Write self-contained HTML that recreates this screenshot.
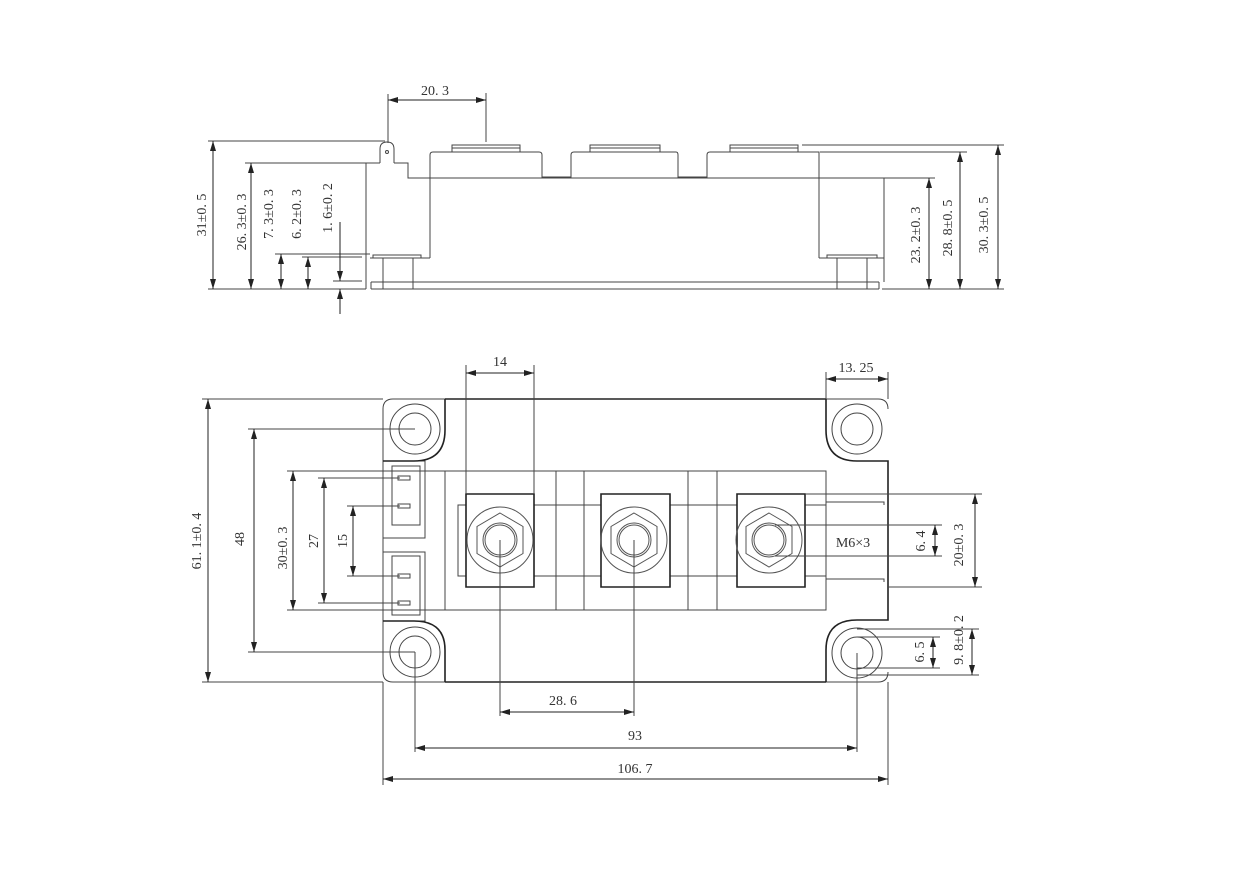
<!DOCTYPE html>
<html><head><meta charset="utf-8"><style>
html,body{margin:0;padding:0;background:#fff;}
svg{display:block;}
text{font-family:"Liberation Serif","Noto Serif CJK SC",serif;font-size:14px;fill:#333;}
</style></head><body>
<svg width="1255" height="887" viewBox="0 0 1255 887" xmlns="http://www.w3.org/2000/svg">
<defs>
<marker id="a" viewBox="0 0 10 6" refX="10" refY="3" markerWidth="10" markerHeight="6" markerUnits="userSpaceOnUse" orient="auto-start-reverse">
<path d="M0,0 L10,3 L0,6 z" fill="#222"/>
</marker>
</defs>
<g fill="none" stroke="#444" stroke-width="1">
<path d="M371,289 H879 M371,282 H879 M371,282 V289 M879,282 V289"/>
<path d="M366,289 V163 H380 M394,163 H408 V178 H884 V282"/>
<path d="M380,163 V149 Q380,142 387,142 Q394,142 394,149 V163"/>
<circle cx="387" cy="152" r="1.5"/>
<path d="M430,258 V155 Q430,152 433,152 H539 Q542,152 542,155 V177 H571 V155 Q571,152 574,152 H676 Q678,152 678,155 V177 H707 V155 Q707,152 710,152 H819 V258"/>
<path d="M452,152 V145 H520 V152 M452,148 H520"/>
<path d="M590,152 V145 H660 V152 M590,148 H660"/>
<path d="M730,152 V145 H798 V152 M730,148 H798"/>
<path d="M373,258 V255 H421 V258 M370,258 H430 M383,258 V289 M413,258 V289"/>
<path d="M827,258 V255 H877 V258 M819,258 H884 M837,258 V289 M867,258 V289"/>
<path d="M208,141 H385 M245,163 H366 M275,254 H370 M302,257 H362 M333,281 H362 M208,289 H366"/>
<path d="M388,94 V143 M486,93 V142"/>
<path d="M802,145 H1004 M820,152 H967 M884,178 H935 M882,289 H1004"/>
</g>
<g stroke="#222" stroke-width="1" fill="none">
<line x1="213" y1="141" x2="213" y2="289" marker-start="url(#a)" marker-end="url(#a)"/>
<line x1="251" y1="163" x2="251" y2="289" marker-start="url(#a)" marker-end="url(#a)"/>
<line x1="281" y1="254" x2="281" y2="289" marker-start="url(#a)" marker-end="url(#a)"/>
<line x1="308" y1="257" x2="308" y2="289" marker-start="url(#a)" marker-end="url(#a)"/>
<line x1="340" y1="222" x2="340" y2="281" marker-end="url(#a)"/>
<line x1="340" y1="314" x2="340" y2="289" marker-end="url(#a)"/>
<line x1="388" y1="100" x2="486" y2="100" marker-start="url(#a)" marker-end="url(#a)"/>
<line x1="929" y1="178" x2="929" y2="289" marker-start="url(#a)" marker-end="url(#a)"/>
<line x1="960" y1="152" x2="960" y2="289" marker-start="url(#a)" marker-end="url(#a)"/>
<line x1="998" y1="145" x2="998" y2="289" marker-start="url(#a)" marker-end="url(#a)"/>
</g>
<text x="435" y="95" text-anchor="middle">20. 3</text>
<text transform="translate(206,215) rotate(-90)" text-anchor="middle">31±0. 5</text>
<text transform="translate(246,222) rotate(-90)" text-anchor="middle">26. 3±0. 3</text>
<text transform="translate(273,214) rotate(-90)" text-anchor="middle">7. 3±0. 3</text>
<text transform="translate(301,214) rotate(-90)" text-anchor="middle">6. 2±0. 3</text>
<text transform="translate(332,208) rotate(-90)" text-anchor="middle">1. 6±0. 2</text>
<text transform="translate(920,235) rotate(-90)" text-anchor="middle">23. 2±0. 3</text>
<text transform="translate(952,228) rotate(-90)" text-anchor="middle">28. 8±0. 5</text>
<text transform="translate(988,225) rotate(-90)" text-anchor="middle">30. 3±0. 5</text>

<g fill="none" stroke="#444" stroke-width="1">
<path d="M393,399 H445 M383,409 Q383,399 393,399 M383,409 V672 Q383,682 393,682 H445"/>
<path d="M826,399 H878 Q888,399 888,409 M888,672 Q888,682 878,682 H826"/>
<circle cx="415" cy="429" r="25"/><circle cx="415" cy="429" r="16"/>
<circle cx="415" cy="652" r="25"/><circle cx="415" cy="652" r="16"/>
<circle cx="857" cy="429" r="25"/><circle cx="857" cy="429" r="16"/>
<circle cx="857" cy="653" r="25"/><circle cx="857" cy="653" r="16"/>
<rect x="383" y="461" width="42" height="77"/><rect x="392" y="466" width="28" height="59"/>
<rect x="383" y="552" width="42" height="69"/><rect x="392" y="556" width="28" height="59"/>
<rect x="398" y="476" width="12" height="4"/><rect x="398" y="504" width="12" height="4"/>
<rect x="398" y="574" width="12" height="4"/><rect x="398" y="601" width="12" height="4"/>
<rect x="445" y="471" width="381" height="139"/>
<path d="M556,471 V610 M584,471 V610 M688,471 V610 M717,471 V610"/>
<path d="M466,505 H458 V576 H466 M534,505 H601 M534,576 H601 M670,505 H737 M670,576 H737 M805,505 H826 V502 H884 V505 M805,576 H826 V579 H884 V582"/>
</g>
<g fill="none" stroke="#222" stroke-width="1.6">
<path d="M445,399 H826 M445,682 H826"/>
<path d="M445,399 V430 Q445,461 414,461 H383"/>
<path d="M445,682 V650 Q445,621 414,621 H383"/>
<path d="M826,399 V430 Q826,461 857,461 H888 V620 H857 Q826,620 826,650 V682"/>
<path d="M466,587 V494 H534 V587 Z"/>
<path d="M601,587 V494 H670 V587 Z"/>
<path d="M737,587 V494 H805 V587 Z"/>
</g>
<g fill="none" stroke="#555" stroke-width="1">
<circle cx="500" cy="540" r="33"/><polygon points="500,513 523,526.5 523,553.5 500,567 477,553.5 477,526.5"/><circle cx="500" cy="540" r="17"/><circle cx="500" cy="540" r="15"/>
<circle cx="634" cy="540" r="33"/><polygon points="634,513 657,526.5 657,553.5 634,567 611,553.5 611,526.5"/><circle cx="634" cy="540" r="17"/><circle cx="634" cy="540" r="15"/>
<circle cx="769" cy="540" r="33"/><polygon points="769,513 792,526.5 792,553.5 769,567 746,553.5 746,526.5"/><circle cx="769" cy="540" r="17"/><circle cx="769" cy="540" r="15"/>
</g>
<g fill="none" stroke="#444" stroke-width="1">
<path d="M466,365 V494 M534,365 V494 M826,372 V399 M888,372 V399"/>
<path d="M202,399 H383 M202,682 H383 M248,429 H415 M248,652 H415 M287,471 H445 M318,478 H400 M347,506 H400 M287,610 H445 M318,603 H400 M347,576 H400"/>
<path d="M500,540 V716 M634,540 V716 M415,652 V752 M857,653 V752 M383,682 V785 M888,682 V785"/>
<path d="M805,494 H982 M888,587 H982 M775,525 H942 M775,556 H942 M857,629 H979 M857,637 H940 M857,668 H940 M857,675 H979"/>
</g>
<g stroke="#222" stroke-width="1" fill="none">
<line x1="466" y1="373" x2="534" y2="373" marker-start="url(#a)" marker-end="url(#a)"/>
<line x1="826" y1="379" x2="888" y2="379" marker-start="url(#a)" marker-end="url(#a)"/>
<line x1="208" y1="399" x2="208" y2="682" marker-start="url(#a)" marker-end="url(#a)"/>
<line x1="254" y1="429" x2="254" y2="652" marker-start="url(#a)" marker-end="url(#a)"/>
<line x1="293" y1="471" x2="293" y2="610" marker-start="url(#a)" marker-end="url(#a)"/>
<line x1="324" y1="478" x2="324" y2="603" marker-start="url(#a)" marker-end="url(#a)"/>
<line x1="353" y1="506" x2="353" y2="576" marker-start="url(#a)" marker-end="url(#a)"/>
<line x1="500" y1="712" x2="634" y2="712" marker-start="url(#a)" marker-end="url(#a)"/>
<line x1="415" y1="748" x2="857" y2="748" marker-start="url(#a)" marker-end="url(#a)"/>
<line x1="383" y1="779" x2="888" y2="779" marker-start="url(#a)" marker-end="url(#a)"/>
<line x1="975" y1="494" x2="975" y2="587" marker-start="url(#a)" marker-end="url(#a)"/>
<line x1="935" y1="525" x2="935" y2="556" marker-start="url(#a)" marker-end="url(#a)"/>
<line x1="933" y1="637" x2="933" y2="668" marker-start="url(#a)" marker-end="url(#a)"/>
<line x1="972" y1="629" x2="972" y2="675" marker-start="url(#a)" marker-end="url(#a)"/>
</g>
<text x="500" y="366" text-anchor="middle">14</text>
<text x="856" y="372" text-anchor="middle">13. 25</text>
<text x="563" y="705" text-anchor="middle">28. 6</text>
<text x="635" y="740" text-anchor="middle">93</text>
<text x="635" y="773" text-anchor="middle">106. 7</text>
<text x="853" y="547" text-anchor="middle">M6×3</text>
<text transform="translate(201,541) rotate(-90)" text-anchor="middle">61. 1±0. 4</text>
<text transform="translate(244,539) rotate(-90)" text-anchor="middle">48</text>
<text transform="translate(287,548) rotate(-90)" text-anchor="middle">30±0. 3</text>
<text transform="translate(318,541) rotate(-90)" text-anchor="middle">27</text>
<text transform="translate(347,541) rotate(-90)" text-anchor="middle">15</text>
<text transform="translate(925,541) rotate(-90)" text-anchor="middle">6. 4</text>
<text transform="translate(963,545) rotate(-90)" text-anchor="middle">20±0. 3</text>
<text transform="translate(924,652) rotate(-90)" text-anchor="middle">6. 5</text>
<text transform="translate(963,640) rotate(-90)" text-anchor="middle">9. 8±0. 2</text>
</svg>
</body></html>
